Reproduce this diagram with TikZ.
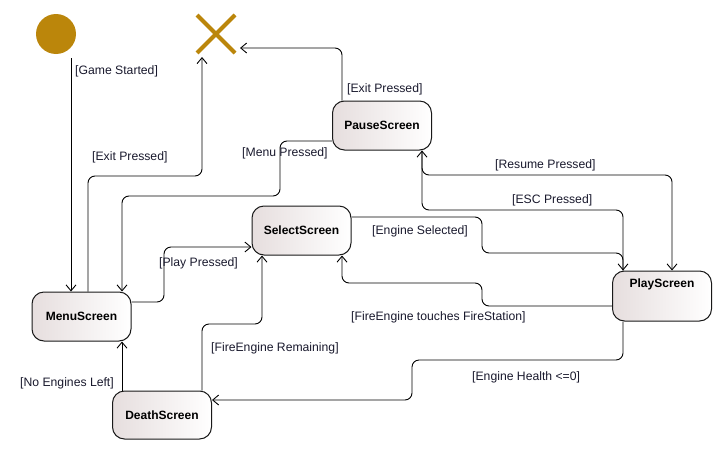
\documentclass[tikz,border=0pt]{standalone}
\usepackage{fontspec}
\setmainfont{Liberation Sans}
\usetikzlibrary{arrows.meta,shapes.misc}
\definecolor{gold}{RGB}{187,134,11}
\definecolor{labelcol}{RGB}{25,25,45}
\definecolor{boxleft}{RGB}{230,222,222}
\tikzset{
	state/.style={draw=black!90, line width=1pt, rounded corners=12pt, minimum width=99pt, minimum height=49pt,
		left color=boxleft, right color=white, font=\fontsize{12}{14}\selectfont\bfseries},
	arr/.style={-{Straight Barb[length=6pt,width=10pt]}, line width=0.9pt, rounded corners=7pt},
	guard/.style={anchor=west, inner sep=0pt, text=labelcol, font=\fontsize{12.2}{14}\selectfont}
}
\begin{document}
\begin{tikzpicture}[x=1pt, y=-1pt]
	\useasboundingbox (0,0) rectangle (722,450);
	\node[circle, fill=gold, minimum size=40pt, inner sep=0pt] (start) at (56,34) {};
	\node[cross out, draw=gold, line width=4pt, minimum size=38pt, inner sep=0pt, outer sep=0pt] (final) at (216,34) {};
	\coordinate (finalB) at (202,57);
	\coordinate (finalR) at (240,48);
	\node[state] (pause) at (382,125.5) {PauseScreen};
	\node[state] (menu) at (81.5,316.5) {MenuScreen};
	\node[state] (select) at (301.5,230.5) {SelectScreen};
	\node[state, minimum height=50pt, text height=9pt, text depth=27pt] (play) at (662,296) {PlayScreen};
	\node[state, minimum height=48pt] (death) at (162,415) {DeathScreen};

	\draw[arr, shorten <=4pt] (start.south -| 71,0) -- (71,0 |- menu.north);
	\draw[arr] (88,0 |- menu.north) |- (202,176) -- (finalB);
	\draw[arr] (342,0 |- pause.north) |- (finalR);
	\draw[arr] (pause.west |- 0,141) -| (280,196) -| (122,0 |- menu.north);
	\draw[arr] (menu.east |- 0,302) -| (164,247) -- (select.west |- 0,247);
	\draw[arr] (select.east |- 0,217) -| (482,253) -| (623,0 |- play.north);
	\draw[arr] (play.west |- 0,306) -| (482,283) -| (342,0 |- select.south);
	\draw[arr] (422,0 |- pause.south) |- (672,175) -- (672,0 |- play.north);
	\draw[arr] (623,0 |- play.north) |- (422,210) -- (422,0 |- pause.south);
	\draw[arr] (623,0 |- play.south) |- (412,360) |- (death.east |- 0,400);
	\draw[arr] (122,0 |- death.north) -- (122,0 |- menu.south);
	\draw[arr] (202,0 |- death.north) |- (262,324) -- (262,0 |- select.south);

	\node[guard] (lGame) at (75,71) {[Game Started]};
	\node[guard] (lExitMenu) at (92,157) {[Exit Pressed]};
	\node[guard] (lExitPause) at (347,89) {[Exit Pressed]};
	\node[guard] (lMenu) at (242,153) {[Menu Pressed]};
	\node[guard] (lPlay) at (159,263) {[Play Pressed]};
	\node[guard] (lSelected) at (372,231) {[Engine Selected]};
	\node[guard] (lTouches) at (351,317) {[FireEngine touches FireStation]};
	\node[guard] (lResume) at (495,165) {[Resume Pressed]};
	\node[guard] (lEsc) at (512,200) {[ESC Pressed]};
	\node[guard] (lRemaining) at (211,348) {[FireEngine Remaining]};
	\node[guard] (lNoEngines) at (20,383) {[No Engines Left]};
	\node[guard] (lHealth) at (472,377) {[Engine Health <=0]};
\end{tikzpicture}
\end{document}
